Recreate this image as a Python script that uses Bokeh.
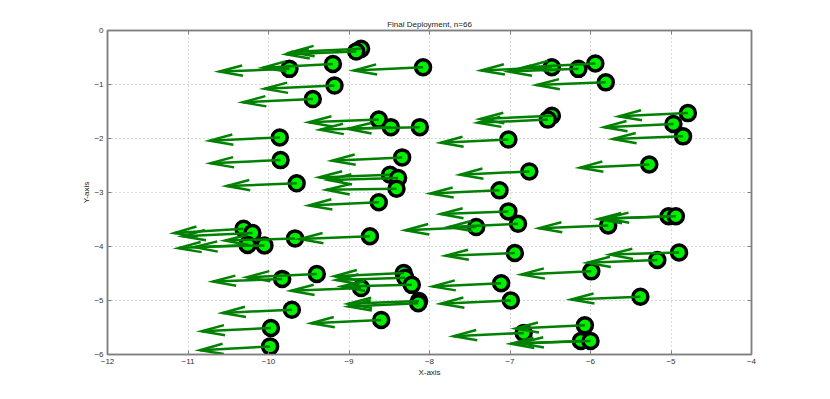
from bokeh.plotting import figure
from bokeh.models import LinearAxis, FixedTicker
from bokeh.embed import file_html
from bokeh.resources import INLINE

# Node positions (x, y) and displacement vectors (u, v)
xs = [-8.85, -8.91, -9.20, -9.74, -8.08, -9.18, -9.45, -8.63, -8.48, -8.12,
      -9.86, -9.85, -8.34, -9.65, -8.49, -8.39, -8.41, -8.63, -5.94, -6.15,
      -6.48, -5.81, -6.48, -6.53, -4.79, -4.97, -4.85, -7.02, -5.27, -6.76,
      -7.13, -10.31, -10.20, -10.26, -10.05, -9.67, -8.74, -9.40, -9.83, -8.32,
      -8.30, -8.22, -8.85, -8.13, -8.14, -9.71, -8.60, -9.97, -9.98, -5.03,
      -4.94, -5.78, -7.02, -6.90, -7.42, -6.94, -4.90, -5.17, -5.99, -7.11,
      -6.99, -5.38, -6.07, -6.83, -6.12, -6.00]
ys = [-0.34, -0.39, -0.62, -0.71, -0.68, -1.02, -1.27, -1.65, -1.79, -1.79,
      -1.98, -2.40, -2.35, -2.83, -2.67, -2.73, -2.93, -3.18, -0.61, -0.71,
      -0.68, -0.96, -1.58, -1.65, -1.53, -1.73, -1.96, -2.02, -2.48, -2.61,
      -2.96, -3.67, -3.75, -3.97, -3.98, -3.85, -3.81, -4.51, -4.60, -4.49,
      -4.58, -4.71, -4.77, -5.01, -5.05, -5.17, -5.36, -5.51, -5.85, -3.44,
      -3.44, -3.61, -3.35, -3.58, -3.64, -4.12, -4.11, -4.25, -4.46, -4.68,
      -5.00, -4.93, -5.46, -5.60, -5.75, -5.75]
us = [-0.87, -0.87, -0.87, -0.87, -0.86, -0.87, -0.87, -0.87, -0.88, -0.90,
      -0.87, -0.87, -0.87, -0.87, -0.88, -0.86, -0.87, -0.87, -0.87, -0.87,
      -0.88, -0.86, -0.89, -0.87, -0.86, -0.86, -0.87, -0.84, -0.86, -0.86,
      -0.86, -0.86, -0.87, -0.86, -0.87, -0.87, -0.87, -0.87, -0.86, -0.86,
      -0.86, -0.87, -0.87, -0.88, -0.87, -0.86, -0.87, -0.86, -0.87, -0.87,
      -0.87, -0.86, -0.84, -0.86, -0.88, -0.86, -0.86, -0.87, -0.87, -0.85,
      -0.87, -0.86, -0.86, -0.87, -0.87, -0.87]
vs = [-0.06, -0.05, -0.07, -0.05, -0.06, -0.06, -0.06, -0.05, -0.05, -0.03,
      -0.06, -0.06, -0.06, -0.05, -0.05, -0.04, -0.02, -0.06, -0.07, -0.05,
      -0.06, -0.05, -0.06, -0.06, -0.06, -0.06, -0.05, -0.06, -0.06, -0.06,
      -0.06, -0.08, -0.06, -0.06, -0.03, -0.04, -0.05, -0.06, -0.05, -0.06,
      -0.04, -0.03, -0.05, -0.05, -0.06, -0.06, -0.06, -0.06, -0.07, -0.05,
      -0.04, -0.05, -0.05, -0.06, -0.06, -0.05, -0.04, -0.05, -0.06, -0.06,
      -0.06, -0.05, -0.06, -0.06, -0.05, -0.04]

x_ticks = [-12, -11, -10, -9, -8, -7, -6, -5, -4]
y_ticks = [-6, -5, -4, -3, -2, -1, 0]

FONT = "Liberation Sans"
AX = "#808080"

p = figure(width=814, height=383, x_range=(-12, -4), y_range=(-6, 0),
           output_backend="svg", toolbar_location=None,
           min_border_left=107, min_border_right=63,
           min_border_top=30, min_border_bottom=29,
           title="Final Deployment, n=66")
p.title.align = "center"
p.title.text_font = FONT
p.title.text_font_size = "8px"
p.title.text_font_style = "normal"
p.title.text_color = "#222222"
p.title.standoff = 4

p.outline_line_color = AX
p.outline_line_width = 1.5
p.background_fill_color = "white"
p.border_fill_color = "white"

for ax in (p.xaxis[0], p.yaxis[0]):
    ax.major_label_text_font = FONT
    ax.major_label_text_font_size = "8px"
    ax.major_label_text_color = "#333333"
    ax.axis_label_text_font = FONT
    ax.axis_label_text_font_size = "8px"
    ax.axis_label_text_font_style = "normal"
    ax.axis_label_text_color = "#222222"
    ax.major_tick_in = 4
    ax.major_tick_out = 0
    ax.minor_tick_in = 0
    ax.minor_tick_out = 0
    ax.axis_line_color = AX
    ax.axis_line_width = 1.5
    ax.major_tick_line_color = AX

p.xaxis.ticker = FixedTicker(ticks=x_ticks)
p.yaxis.ticker = FixedTicker(ticks=y_ticks)
p.xaxis.axis_label = "X-axis"
p.yaxis.axis_label = "Y-axis"
p.xaxis.major_label_standoff = 4
p.xaxis.axis_label_standoff = 1
p.yaxis.major_label_standoff = 4
p.yaxis.axis_label_standoff = 0

for loc, tk in (("above", x_ticks), ("right", y_ticks)):
    a = LinearAxis(ticker=FixedTicker(ticks=tk))
    a.major_label_overrides = {t: "" for t in tk}
    a.major_label_standoff = 0
    a.major_tick_in = 4
    a.major_tick_out = 0
    a.minor_tick_in = 0
    a.minor_tick_out = 0
    a.axis_line_color = AX
    a.axis_line_width = 1.5
    a.major_tick_line_color = AX
    p.add_layout(a, loc)

p.xgrid.ticker = FixedTicker(ticks=x_ticks)
p.ygrid.ticker = FixedTicker(ticks=y_ticks)
p.grid.grid_line_color = "#b4b4b4"
p.grid.grid_line_dash = "1 3"
p.grid.grid_line_width = 1

# nodes
p.scatter(xs, ys, size=15, fill_color="#00f000", line_color="black", line_width=3.5)

# quiver arrows (MATLAB-style heads: alpha = beta = 0.33)
alpha, beta = 0.33, 0.33
x1 = [x + u for x, u in zip(xs, us)]
y1 = [y + v for y, v in zip(ys, vs)]
p.segment(x0=xs, y0=ys, x1=x1, y1=y1, line_color="#008000", line_width=2.5)
hx, hy = [], []
for x, y, u, v in zip(xs, ys, us, vs):
    tx, ty = x + u, y + v
    hx.append([tx - alpha * (u + beta * v), tx, tx - alpha * (u - beta * v)])
    hy.append([ty - alpha * (v - beta * u), ty, ty - alpha * (v + beta * u)])
p.multi_line(hx, hy, line_color="#008000", line_width=2.5, line_join="miter")

open("out.html", "w").write(file_html(p, INLINE))
